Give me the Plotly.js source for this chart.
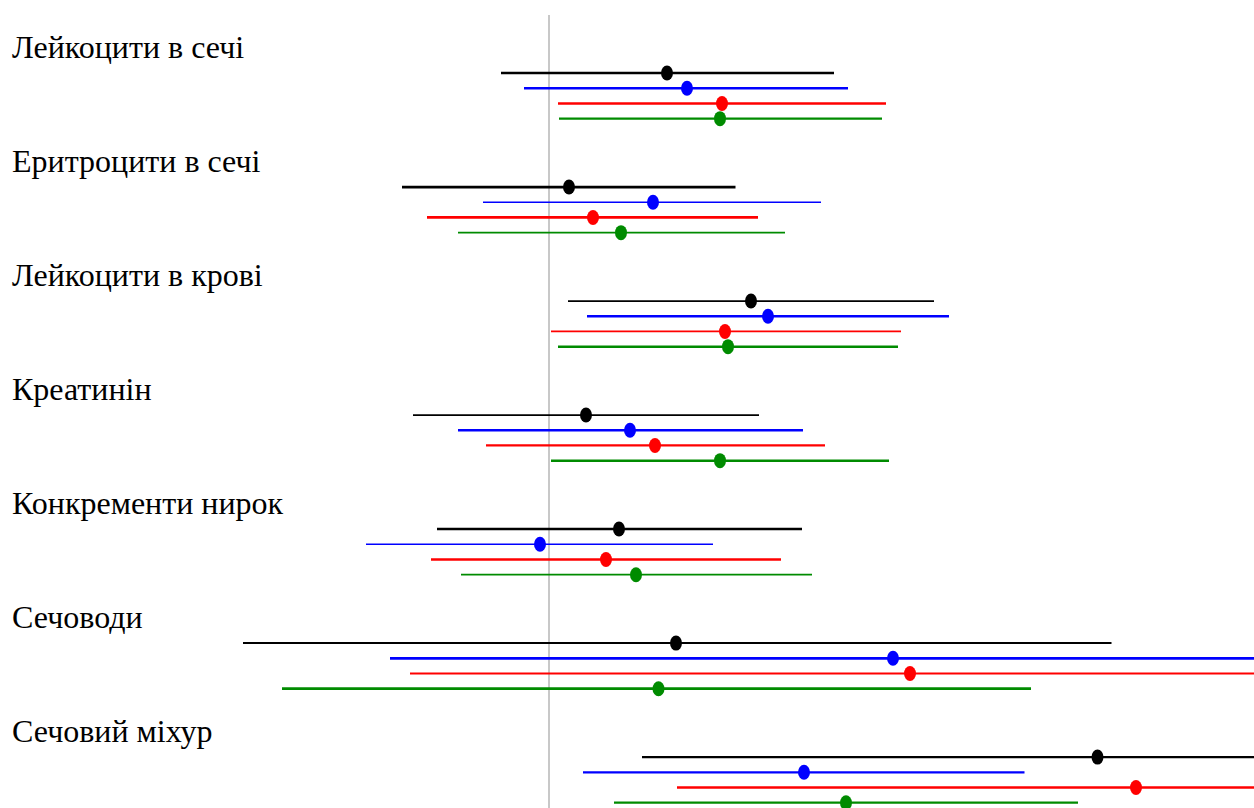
<!DOCTYPE html>
<html>
<head>
<meta charset="utf-8">
<script src="https://cdn.plot.ly/plotly-3.0.1.min.js"></script>
<style>html,body{margin:0;padding:0;background:#fff}#chart{width:1254px;height:808px}</style>
</head>
<body>
<div id="chart"></div>
<script>
// Categories (top to bottom)
const categories = ["Лейкоцити в сечі", "Еритроцити в сечі", "Лейкоцити в крові", "Креатинін", "Конкременти нирок", "Сечоводи", "Сечовий міхур"];

// Four series (black, blue, red, green): point estimate and interval bounds
const s1_est = [0.472, 0.080, 0.808, 0.148, 0.280, 0.508, 2.194];
const s1_lo  = [-0.192, -0.588, 0.076, -0.544, -0.448, -1.224, 0.372];
const s1_hi  = [1.140, 0.746, 1.540, 0.840, 1.012, 2.250, 4.020];

const s2_est = [0.552, 0.416, 0.876, 0.324, -0.036, 1.376, 1.020];
const s2_lo  = [-0.100, -0.264, 0.152, -0.364, -0.732, -0.636, 0.136];
const s2_hi  = [1.196, 1.088, 1.600, 1.016, 0.656, 3.388, 1.902];

const s3_est = [0.692, 0.176, 0.704, 0.424, 0.228, 1.444, 2.348];
const s3_lo  = [0.036, -0.488, 0.008, -0.252, -0.472, -0.556, 0.512];
const s3_hi  = [1.348, 0.836, 1.408, 1.104, 0.928, 3.444, 4.184];

const s4_est = [0.684, 0.288, 0.716, 0.684, 0.348, 0.438, 1.188];
const s4_lo  = [0.040, -0.364, 0.036, 0.008, -0.352, -1.068, 0.260];
const s4_hi  = [1.332, 0.944, 1.396, 1.360, 1.052, 1.928, 2.116];

// Styles
const seriesColors = ["#000000", "#0000ff", "#ff0000", "#008b00"];
const lineWidths = [
  [2.6, 2.3, 2.6, 2.4],
  [2.8, 1.6, 2.8, 1.7],
  [1.7, 2.5, 1.7, 2.5],
  [1.8, 2.5, 2.2, 2.5],
  [2.5, 1.6, 2.5, 1.8],
  [2.0, 2.8, 2.0, 2.8],
  [2.3, 2.3, 2.3, 2.3]
];

const series = [
  {est: s1_est, lo: s1_lo, hi: s1_hi},
  {est: s2_est, lo: s2_lo, hi: s2_hi},
  {est: s3_est, lo: s3_lo, hi: s3_hi},
  {est: s4_est, lo: s4_lo, hi: s4_hi}
];

const GROUP = 7.5;   // rows per category block
const LABEL_OFF = -1.72;

const traces = [];
const shapes = [];
categories.forEach((c, i) => {
  series.forEach((s, j) => {
    const y = i * GROUP + j;
    traces.push({
      type: "scatter", mode: "lines",
      x: [s.lo[i], s.hi[i]], y: [y, y],
      line: {color: seriesColors[j], width: lineWidths[i][j]},
      hoverinfo: "skip", showlegend: false
    });
    shapes.push({
      type: "circle", xref: "x", yref: "y",
      xsizemode: "pixel", ysizemode: "pixel",
      xanchor: s.est[i], yanchor: y,
      x0: -6, x1: 6, y0: -7.5, y1: 7.5,
      fillcolor: seriesColors[j], line: {width: 0}, layer: "above"
    });
  });
});

const SERIF = "Liberation Serif";

const annotations = categories.map((c, i) => ({
  text: c, xref: "paper", x: 0, xanchor: "left", xshift: 10,
  yref: "y", y: i * GROUP + LABEL_OFF, yanchor: "middle",
  showarrow: false,
  font: {family: SERIF, size: 32, color: "#000"}
}));

const layout = {
  width: 1254, height: 808,
  font: {family: SERIF},
  margin: {l: 0, r: 0, t: 15, b: 0, pad: 0},
  paper_bgcolor: "#fff", plot_bgcolor: "#fff",
  xaxis: {range: [-2.196, 2.82], showgrid: false, showticklabels: false, ticks: "",
          zeroline: true, zerolinecolor: "#c8c8c8", zerolinewidth: 2, showline: false, fixedrange: true},
  yaxis: {range: [48.35, -3.82], showgrid: false, showticklabels: false, ticks: "",
          zeroline: false, showline: false, fixedrange: true},
  shapes: shapes,
  annotations: annotations,
  showlegend: false
};

Plotly.newPlot("chart", traces, layout, {staticPlot: true, displayModeBar: false});
</script>
</body>
</html>
